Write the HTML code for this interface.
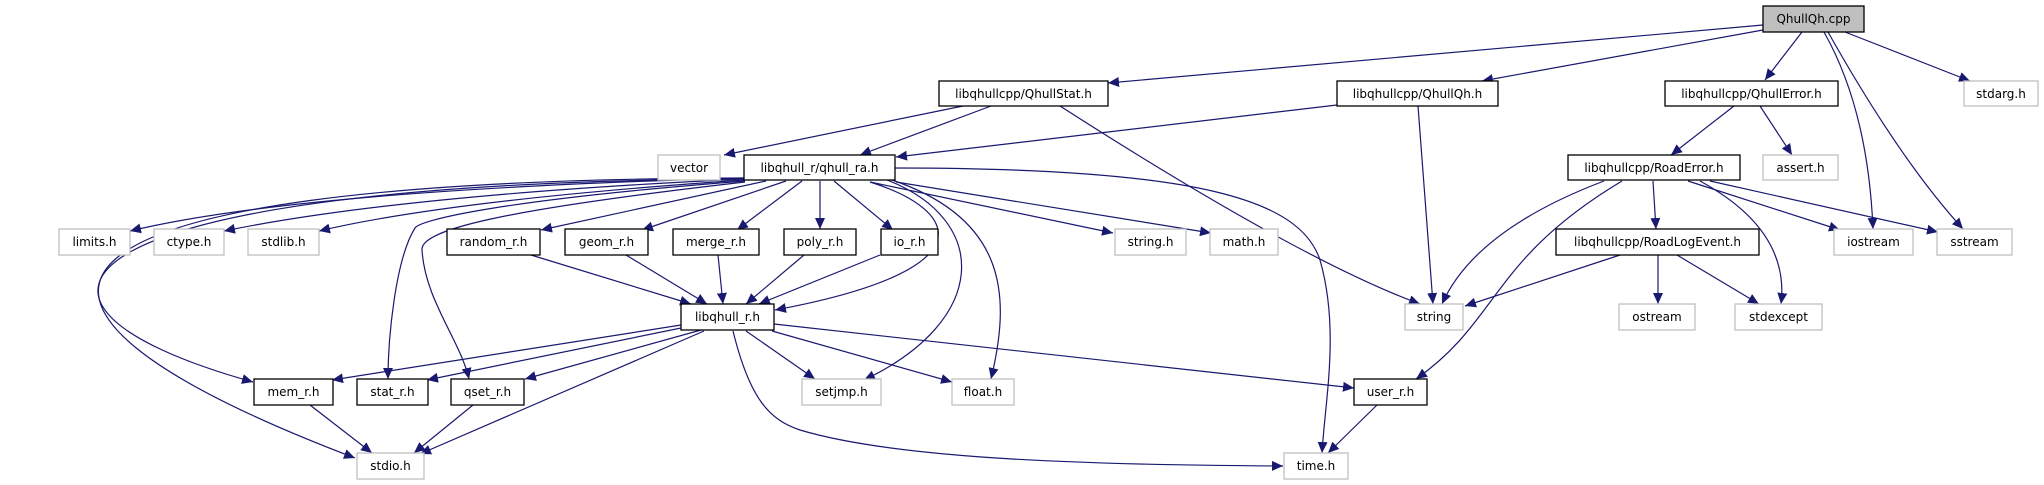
<!DOCTYPE html>
<html><head><meta charset="utf-8"><style>
html,body{margin:0;padding:0;background:#fff;}
svg{display:block;}
text{font-family:"DejaVu Sans","Liberation Sans",sans-serif;font-size:12px;fill:#000;text-anchor:middle;}
.b{fill:#fff;stroke:#000;stroke-width:1.3;}
.g{fill:#fff;stroke:#bfbfbf;stroke-width:1.3;}
.e{fill:none;stroke:#191970;stroke-width:1.2;marker-end:url(#a);}
</style></head><body>
<svg width="2044" height="485" viewBox="0 0 2044 485" xmlns="http://www.w3.org/2000/svg">
<defs><marker id="a" markerUnits="userSpaceOnUse" markerWidth="12" markerHeight="10" refX="11" refY="5" orient="auto"><path d="M0,0 L11,5 L0,10 Z" fill="#191970"/></marker></defs>
<!-- edges -->
<path class="e" d="M1763,25 L1108,83"/>
<path class="e" d="M1763,30 L1482,81"/>
<path class="e" d="M1802,32 L1765,80"/>
<path class="e" d="M1824,32 Q1868,110 1873,229"/>
<path class="e" d="M1828,32 Q1900,160 1963,229"/>
<path class="e" d="M1845,32 L1970,81"/>
<path class="e" d="M963,106 L724,155"/>
<path class="e" d="M991,106 L860,155"/>
<path class="e" d="M1060,106 Q1300,260 1420,304"/>
<path class="e" d="M1337,105 L896,157"/>
<path class="e" d="M1418,106 L1433,304"/>
<path class="e" d="M1734,106 L1671,155"/>
<path class="e" d="M1760,106 L1792,155"/>
<path class="e" d="M1604,181 Q1475,230 1442,304"/>
<path class="e" d="M1622,181 C1490,260 1500,320 1416,379"/>
<path class="e" d="M1653,181 L1656,229"/>
<path class="e" d="M1688,181 L1840,230"/>
<path class="e" d="M1710,181 L1938,232"/>
<path class="e" d="M1700,181 Q1790,230 1781,304"/>
<path class="e" d="M1620,255 L1465,306"/>
<path class="e" d="M1658,255 L1658,304"/>
<path class="e" d="M1677,255 L1759,304"/>
<path class="e" d="M1377,405 L1328,453"/>
<!-- qhull_ra -->
<path class="e" d="M744,178 Q300,190 130,231"/>
<path class="e" d="M744,179 Q400,195 224,231"/>
<path class="e" d="M744,180 Q450,200 319,231"/>
<path class="e" d="M744,178 C0,180 -60,300 355,458"/>
<path class="e" d="M744,179 C60,182 -40,300 253,382"/>
<path class="e" d="M745,181 C500,200 420,220 415,228 C395,260 388,340 388,379"/>
<path class="e" d="M745,182 C500,210 420,230 422,250 C425,300 460,340 469,379"/>
<path class="e" d="M766,181 L541,230"/>
<path class="e" d="M786,181 L642,230"/>
<path class="e" d="M802,181 L737,230"/>
<path class="e" d="M820,181 L820,229"/>
<path class="e" d="M834,181 L893,230"/>
<path class="e" d="M870,182 C960,210 990,270 775,310"/>
<path class="e" d="M887,180 C990,220 990,320 864,380"/>
<path class="e" d="M892,180 C1010,220 1010,300 991,379"/>
<path class="e" d="M895,168 C1200,168 1300,200 1320,260 C1340,330 1325,400 1322,453"/>
<path class="e" d="M870,182 L1113,233"/>
<path class="e" d="M896,182 L1211,233"/>
<!-- libqhull_r -->
<path class="e" d="M681,325 L332,380"/>
<path class="e" d="M681,328 L427,380"/>
<path class="e" d="M701,330 L525,379"/>
<path class="e" d="M704,331 L420,454"/>
<path class="e" d="M746,331 L815,379"/>
<path class="e" d="M772,331 L952,382"/>
<path class="e" d="M774,324 L1354,388"/>
<path class="e" d="M733,331 C750,400 770,420 800,430 C900,460 1100,465 1283,466"/>
<path class="e" d="M531,255 L691,304"/>
<path class="e" d="M626,255 L707,304"/>
<path class="e" d="M718,255 L723,304"/>
<path class="e" d="M804,255 L746,304"/>
<path class="e" d="M880,255 L759,304"/>
<path class="e" d="M310,405 L372,453"/>
<path class="e" d="M473,405 L414,453"/>
<!-- nodes -->
<rect x="1763" y="6" width="101" height="26" fill="#bfbfbf" stroke="#000" stroke-width="1.3"/><text x="1813.5" y="23">QhullQh.cpp</text>
<rect class="b" x="939" y="81" width="169" height="25"/><text x="1023.5" y="98">libqhullcpp/QhullStat.h</text>
<rect class="b" x="1337" y="81" width="161" height="25"/><text x="1417.5" y="98">libqhullcpp/QhullQh.h</text>
<rect class="b" x="1665" y="81" width="173" height="25"/><text x="1751.5" y="98">libqhullcpp/QhullError.h</text>
<rect class="g" x="1964" y="81" width="74" height="25"/><text x="2001" y="98">stdarg.h</text>
<rect class="g" x="658" y="155" width="62" height="25"/><text x="689" y="172">vector</text>
<rect class="b" x="744" y="155" width="151" height="25"/><text x="819.5" y="172">libqhull_r/qhull_ra.h</text>
<rect class="b" x="1568" y="155" width="172" height="25"/><text x="1654" y="172">libqhullcpp/RoadError.h</text>
<rect class="g" x="1763" y="155" width="75" height="25"/><text x="1800.5" y="172">assert.h</text>
<rect class="g" x="59" y="229" width="71" height="26"/><text x="94.5" y="246">limits.h</text>
<rect class="g" x="154" y="229" width="70" height="26"/><text x="189" y="246">ctype.h</text>
<rect class="g" x="248" y="229" width="71" height="26"/><text x="283.5" y="246">stdlib.h</text>
<rect class="b" x="447" y="229" width="93" height="26"/><text x="493.5" y="246">random_r.h</text>
<rect class="b" x="565" y="229" width="83" height="26"/><text x="606.5" y="246">geom_r.h</text>
<rect class="b" x="673" y="229" width="86" height="26"/><text x="716" y="246">merge_r.h</text>
<rect class="b" x="784" y="229" width="72" height="26"/><text x="820" y="246">poly_r.h</text>
<rect class="b" x="881" y="229" width="57" height="26"/><text x="909.5" y="246">io_r.h</text>
<rect class="g" x="1115" y="229" width="71" height="26"/><text x="1150.5" y="246">string.h</text>
<rect class="g" x="1210" y="229" width="68" height="26"/><text x="1244" y="246">math.h</text>
<rect class="b" x="1556" y="229" width="203" height="26"/><text x="1657.5" y="246">libqhullcpp/RoadLogEvent.h</text>
<rect class="g" x="1834" y="229" width="79" height="26"/><text x="1873.5" y="246">iostream</text>
<rect class="g" x="1937" y="229" width="75" height="26"/><text x="1974.5" y="246">sstream</text>
<rect class="b" x="681" y="304" width="93" height="26"/><text x="727.5" y="321">libqhull_r.h</text>
<rect class="g" x="1405" y="304" width="58" height="26"/><text x="1434" y="321">string</text>
<rect class="g" x="1619" y="304" width="76" height="26"/><text x="1657" y="321">ostream</text>
<rect class="g" x="1735" y="304" width="87" height="26"/><text x="1778.5" y="321">stdexcept</text>
<rect class="b" x="254" y="379" width="79" height="26"/><text x="293.5" y="396">mem_r.h</text>
<rect class="b" x="357" y="379" width="71" height="26"/><text x="392.5" y="396">stat_r.h</text>
<rect class="b" x="451" y="379" width="73" height="26"/><text x="487.5" y="396">qset_r.h</text>
<rect class="g" x="802" y="379" width="79" height="26"/><text x="841.5" y="396">setjmp.h</text>
<rect class="g" x="952" y="379" width="62" height="26"/><text x="983" y="396">float.h</text>
<rect class="b" x="1354" y="379" width="73" height="26"/><text x="1390.5" y="396">user_r.h</text>
<rect class="g" x="357" y="453" width="67" height="26"/><text x="390.5" y="470">stdio.h</text>
<rect class="g" x="1284" y="453" width="64" height="26"/><text x="1316" y="470">time.h</text>
</svg>
</body></html>
